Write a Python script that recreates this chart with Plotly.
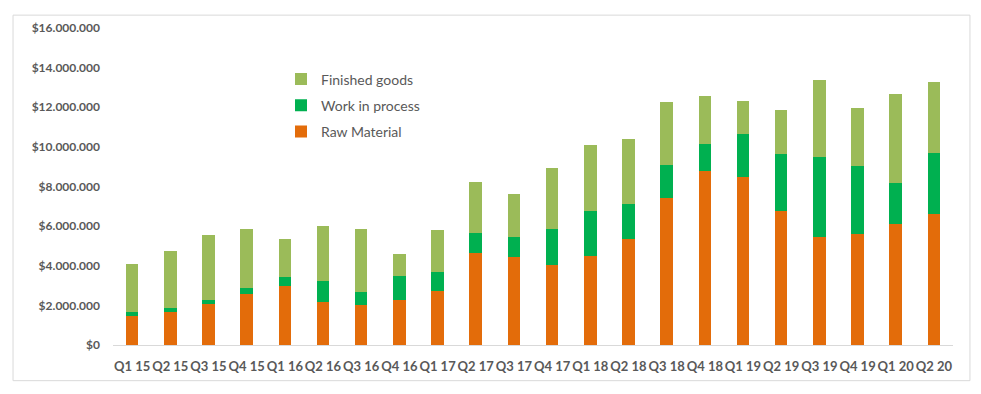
import plotly.graph_objects as go

categories = ["Q1 15", "Q2 15", "Q3 15", "Q4 15", "Q1 16", "Q2 16", "Q3 16", "Q4 16",
              "Q1 17", "Q2 17", "Q3 17", "Q4 17", "Q1 18", "Q2 18", "Q3 18", "Q4 18",
              "Q1 19", "Q2 19", "Q3 19", "Q4 19", "Q1 20", "Q2 20"]
raw_material = [1.45, 1.65, 2.05, 2.55, 2.98, 2.15, 2.0, 2.25, 2.75, 4.65, 4.45, 4.05,
                4.5, 5.35, 7.4, 8.8, 8.5, 6.75, 5.45, 5.6, 6.1, 6.6]
work_in_process = [0.2, 0.2, 0.2, 0.35, 0.47, 1.1, 0.7, 1.25, 0.95, 1.0, 1.0, 1.8,
                   2.25, 1.75, 1.7, 1.35, 2.15, 2.9, 4.05, 3.45, 2.1, 3.1]
finished_goods = [2.43, 2.9, 3.3, 2.93, 1.9, 2.75, 3.15, 1.1, 2.1, 2.6, 2.15, 3.1,
                  3.35, 3.3, 3.15, 2.4, 1.65, 2.2, 3.9, 2.9, 4.45, 3.55]
y_ticks = [0, 2e6, 4e6, 6e6, 8e6, 10e6, 12e6, 14e6, 16e6]
y_tick_labels = ["$0", "$2.000.000", "$4.000.000", "$6.000.000", "$8.000.000",
                 "$10.000.000", "$12.000.000", "$14.000.000", "$16.000.000"]

M = 1e6
series = [
    ("Raw Material", raw_material, "#E36C0A", 3),
    ("Work in process", work_in_process, "#00B050", 2),
    ("Finished goods", finished_goods, "#9BBB59", 1),
]

fig = go.Figure()
for name, vals, color, rank in series:
    fig.add_trace(go.Bar(
        x=categories, y=[v * M for v in vals], name=name,
        marker=dict(color=color, line=dict(width=0)),
        legendgroup=name, legendrank=rank,
    ))

font_family = "Lato, 'Open Sans', sans-serif"
fig.update_layout(
    barmode="stack",
    bargap=0.67,
    width=973, height=386,
    margin=dict(l=105, r=28, t=17, b=49),
    paper_bgcolor="white", plot_bgcolor="white",
    font=dict(family=font_family, color="#595959"),
    showlegend=True,
    legend=dict(
        x=0.2, y=0.888, xanchor="left", yanchor="top",
        traceorder="grouped", tracegroupgap=5,
        font=dict(size=14, color="#595959"),
        bgcolor="rgba(0,0,0,0)", itemwidth=30,
    ),
    xaxis=dict(
        showgrid=False, showline=True, linecolor="#D9D9D9", linewidth=1,
        ticks="", tickangle=0, ticklabelstandoff=9,
        tickfont=dict(size=13, family=font_family, color="#595959", weight="bold"),
    ),
    yaxis=dict(
        range=[0, 16e6], showgrid=False, showline=False, zeroline=False,
        tickvals=y_ticks, ticktext=y_tick_labels, ticks="", ticklabelstandoff=12,
        tickfont=dict(size=12, family=font_family, color="#595959", weight="bold"),
    ),
    shapes=[dict(
        type="rect", xref="paper", yref="paper",
        x0=-0.119, x1=1.0202, y0=-0.1125, y1=1.0406,
        line=dict(color="#D9D9D9", width=1), fillcolor="rgba(0,0,0,0)", layer="below",
    )],
)

fig.write_html("out.html")
